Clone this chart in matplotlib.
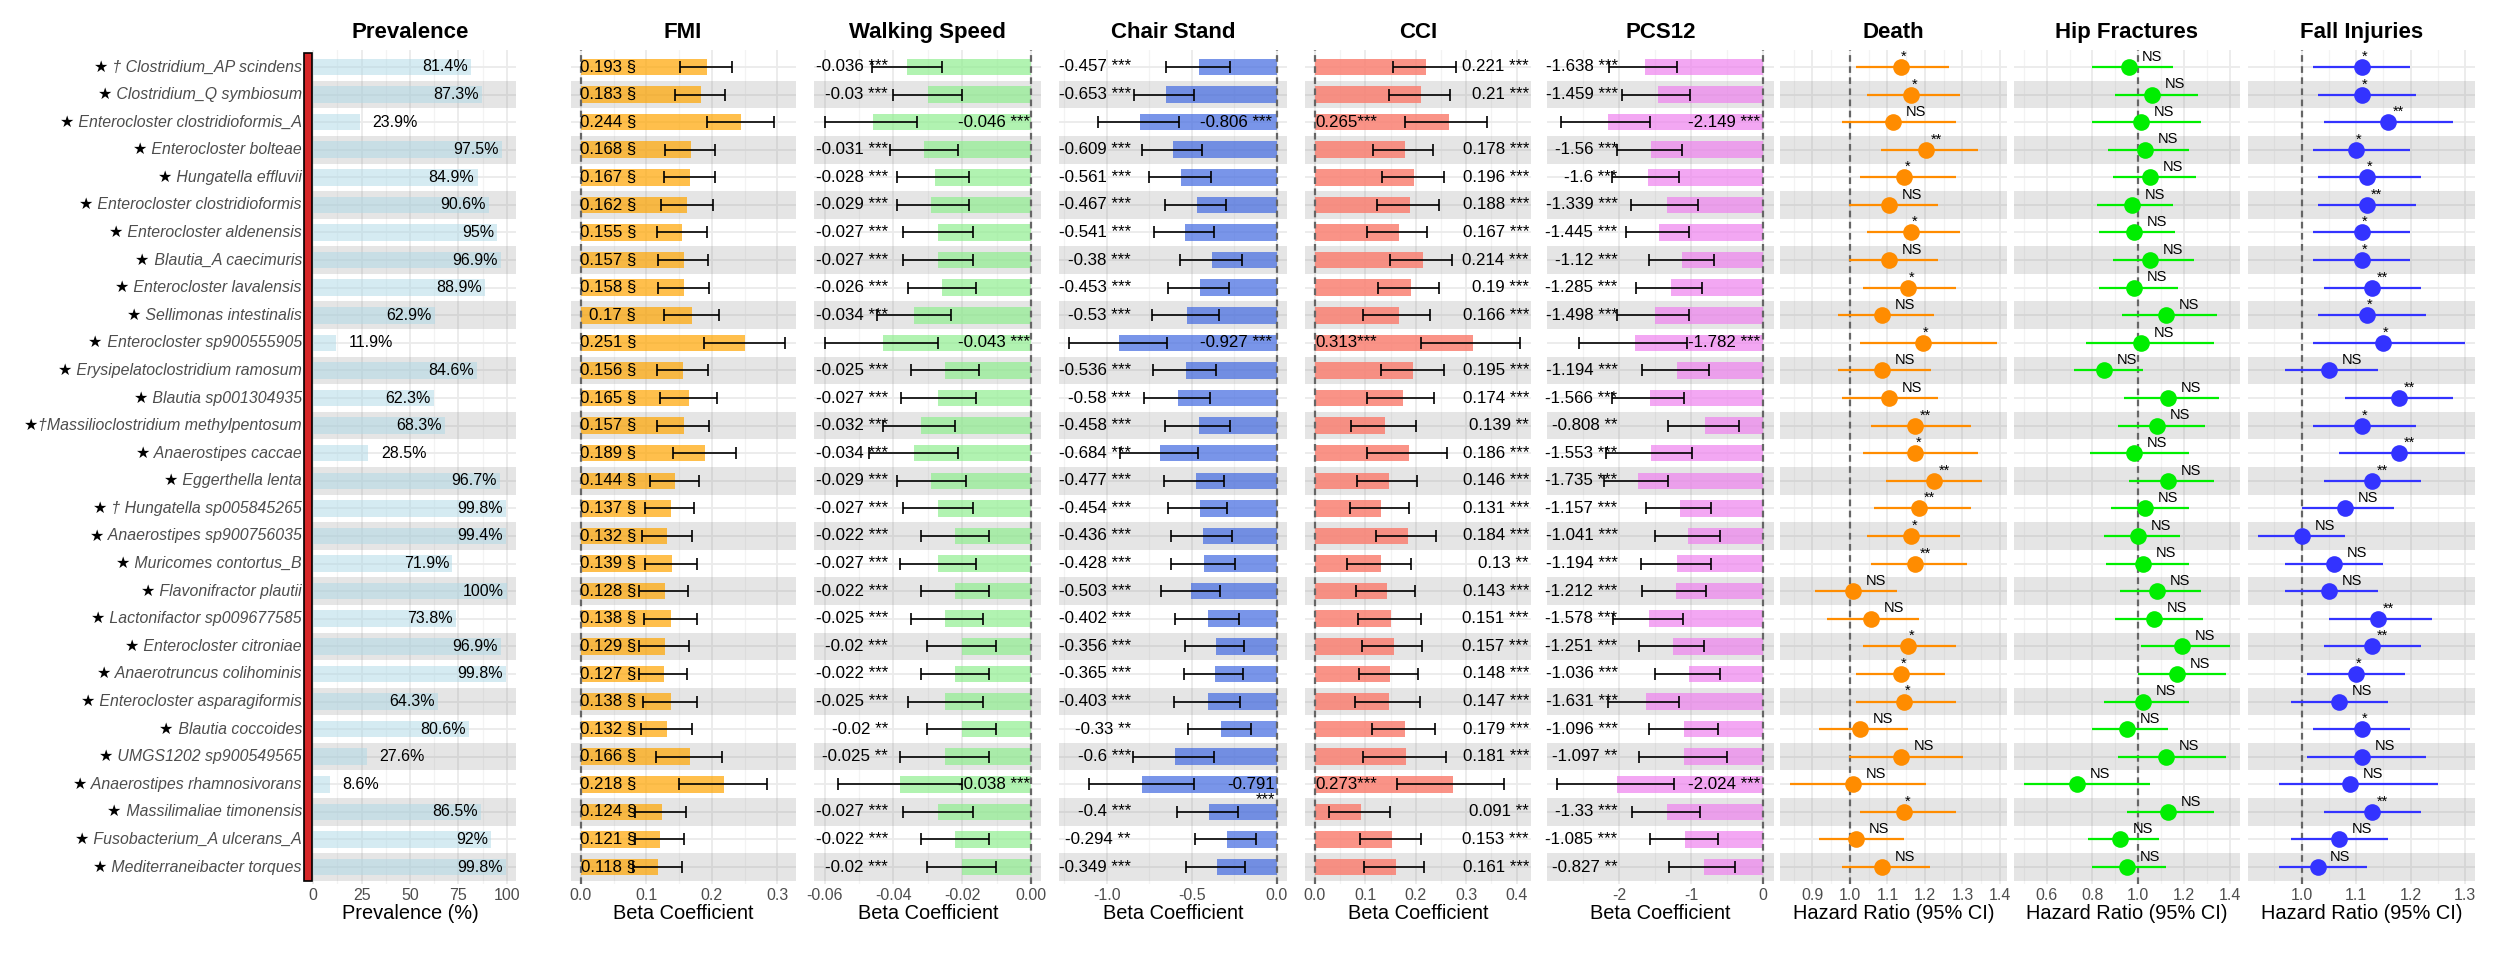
import numpy as np
import matplotlib
matplotlib.use("Agg")
import matplotlib.pyplot as plt
from matplotlib.patches import Rectangle

plt.rcParams['font.family'] = ['Liberation Sans', 'DejaVu Sans']
plt.rcParams['axes.unicode_minus'] = False

# ---- data (top to bottom) ----
species = [
    "★ † Clostridium_AP scindens", "★ Clostridium_Q symbiosum",
    "★ Enterocloster clostridioformis_A", "★ Enterocloster bolteae",
    "★ Hungatella effluvii", "★ Enterocloster clostridioformis",
    "★ Enterocloster aldenensis", "★ Blautia_A caecimuris",
    "★ Enterocloster lavalensis", "★ Sellimonas intestinalis",
    "★ Enterocloster sp900555905", "★ Erysipelatoclostridium ramosum",
    "★ Blautia sp001304935", "★†Massilioclostridium methylpentosum",
    "★ Anaerostipes caccae", "★ Eggerthella lenta",
    "★ † Hungatella sp005845265", "★ Anaerostipes sp900756035",
    "★ Muricomes contortus_B", "★ Flavonifractor plautii",
    "★ Lactonifactor sp009677585", "★ Enterocloster citroniae",
    "★ Anaerotruncus colihominis", "★ Enterocloster asparagiformis",
    "★ Blautia coccoides", "★ UMGS1202 sp900549565",
    "★ Anaerostipes rhamnosivorans", "★ Massilimaliae timonensis",
    "★ Fusobacterium_A ulcerans_A", "★ Mediterraneibacter torques",
]
prevalence = [81.4, 87.3, 23.9, 97.5, 84.9, 90.6, 95, 96.9, 88.9, 62.9,
              11.9, 84.6, 62.3, 68.3, 28.5, 96.7, 99.8, 99.4, 71.9, 100,
              73.8, 96.9, 99.8, 64.3, 80.6, 27.6, 8.6, 86.5, 92, 99.8]

fmi_beta = [0.193, 0.183, 0.244, 0.168, 0.167, 0.162, 0.155, 0.157, 0.158, 0.17,
            0.251, 0.156, 0.165, 0.157, 0.189, 0.144, 0.137, 0.132, 0.139, 0.128,
            0.138, 0.129, 0.127, 0.138, 0.132, 0.166, 0.218, 0.124, 0.121, 0.118]
fmi_lo = [0.152, 0.144, 0.193, 0.129, 0.127, 0.123, 0.117, 0.118, 0.118, 0.127,
          0.188, 0.117, 0.121, 0.117, 0.140, 0.106, 0.098, 0.094, 0.098, 0.089,
          0.097, 0.089, 0.089, 0.095, 0.092, 0.114, 0.150, 0.083, 0.082, 0.079]
fmi_hi = [0.231, 0.220, 0.295, 0.204, 0.205, 0.201, 0.193, 0.194, 0.196, 0.211,
          0.312, 0.194, 0.207, 0.196, 0.237, 0.181, 0.173, 0.169, 0.178, 0.164,
          0.178, 0.165, 0.162, 0.178, 0.170, 0.216, 0.284, 0.161, 0.158, 0.155]

walk_beta = [-0.036, -0.03, -0.046, -0.031, -0.028, -0.029, -0.027, -0.027, -0.026, -0.034,
             -0.043, -0.025, -0.027, -0.032, -0.034, -0.029, -0.027, -0.022, -0.027, -0.022,
             -0.025, -0.02, -0.022, -0.025, -0.02, -0.025, -0.038, -0.027, -0.022, -0.02]
walk_lo = [-0.0461, -0.0400, -0.0600, -0.0410, -0.0390, -0.0390, -0.0371, -0.0371, -0.0358, -0.0448,
           -0.0600, -0.0350, -0.0379, -0.0429, -0.0470, -0.0390, -0.0371, -0.0321, -0.0380, -0.0321,
           -0.0350, -0.0301, -0.0321, -0.0358, -0.0301, -0.0380, -0.0560, -0.0371, -0.0321, -0.0301]
walk_hi = [-0.0260, -0.0200, -0.0330, -0.0211, -0.0179, -0.0179, -0.0170, -0.0170, -0.0161, -0.0232,
           -0.0269, -0.0150, -0.0161, -0.0220, -0.0211, -0.0190, -0.0170, -0.0121, -0.0161, -0.0121,
           -0.0140, -0.0101, -0.0121, -0.0140, -0.0101, -0.0121, -0.0200, -0.0170, -0.0121, -0.0101]
walk_sig = ["***"] * 24 + ["**", "**"] + ["***"] * 4

chair_beta = [-0.457, -0.653, -0.806, -0.609, -0.561, -0.467, -0.541, -0.38, -0.453, -0.53,
              -0.927, -0.536, -0.58, -0.458, -0.684, -0.477, -0.454, -0.436, -0.428, -0.503,
              -0.402, -0.356, -0.365, -0.403, -0.33, -0.6, -0.791, -0.4, -0.294, -0.349]
chair_lo = [-0.649, -0.837, -1.053, -0.790, -0.749, -0.655, -0.720, -0.567, -0.637, -0.731,
            -1.220, -0.725, -0.778, -0.655, -0.920, -0.661, -0.637, -0.620, -0.620, -0.678,
            -0.596, -0.537, -0.543, -0.602, -0.520, -0.843, -1.106, -0.584, -0.478, -0.531]
chair_hi = [-0.276, -0.484, -0.573, -0.441, -0.388, -0.296, -0.371, -0.206, -0.282, -0.341,
            -0.643, -0.359, -0.394, -0.276, -0.465, -0.312, -0.290, -0.265, -0.247, -0.335,
            -0.222, -0.190, -0.200, -0.218, -0.153, -0.371, -0.488, -0.229, -0.124, -0.184]
chair_sig = ["***"] * 24 + ["**"] + ["***"] * 3 + ["**", "***"]
chair_wrap = [27]

cci_beta = [0.221, 0.21, 0.265, 0.178, 0.196, 0.188, 0.167, 0.214, 0.19, 0.166,
            0.313, 0.195, 0.174, 0.139, 0.186, 0.146, 0.131, 0.184, 0.13, 0.143,
            0.151, 0.157, 0.148, 0.147, 0.179, 0.181, 0.273, 0.091, 0.153, 0.161]
cci_lo = [0.155, 0.146, 0.179, 0.116, 0.132, 0.124, 0.104, 0.149, 0.126, 0.096,
          0.211, 0.130, 0.104, 0.072, 0.104, 0.084, 0.070, 0.122, 0.064, 0.082,
          0.086, 0.094, 0.088, 0.080, 0.114, 0.096, 0.163, 0.028, 0.090, 0.098]
cci_hi = [0.280, 0.268, 0.342, 0.235, 0.255, 0.246, 0.223, 0.271, 0.246, 0.228,
          0.407, 0.255, 0.237, 0.201, 0.261, 0.203, 0.187, 0.241, 0.191, 0.199,
          0.211, 0.213, 0.205, 0.209, 0.239, 0.259, 0.375, 0.149, 0.211, 0.217]
cci_sig = ["***"] * 13 + ["**"] + ["***"] * 4 + ["**"] + ["***"] * 8 + ["**", "***", "***"]

pcs_beta = [-1.638, -1.459, -2.149, -1.56, -1.6, -1.339, -1.445, -1.12, -1.285, -1.498,
            -1.782, -1.194, -1.566, -0.808, -1.553, -1.735, -1.157, -1.041, -1.194, -1.212,
            -1.578, -1.251, -1.036, -1.631, -1.096, -1.097, -2.024, -1.33, -1.085, -0.827]
pcs_lo = [-2.139, -1.954, -2.799, -2.032, -2.092, -1.829, -1.908, -1.589, -1.769, -2.023,
          -2.559, -1.677, -2.092, -1.316, -2.176, -2.203, -1.621, -1.506, -1.691, -1.677,
          -2.079, -1.718, -1.497, -2.148, -1.589, -1.727, -2.855, -1.815, -1.566, -1.303]
pcs_hi = [-1.192, -1.016, -1.566, -1.132, -1.164, -0.901, -1.025, -0.679, -0.845, -1.025,
          -1.062, -0.748, -1.095, -0.333, -0.984, -1.316, -0.730, -0.605, -0.730, -0.790,
          -1.118, -0.818, -0.605, -1.164, -0.633, -0.503, -1.242, -0.882, -0.633, -0.388]
pcs_sig = ["***"] * 13 + ["**"] + ["***"] * 11 + ["**"] + ["***"] * 3 + ["**"]

death_hr = [1.135, 1.164, 1.116, 1.204, 1.145, 1.105, 1.164, 1.105, 1.155, 1.085,
            1.194, 1.085, 1.105, 1.174, 1.174, 1.224, 1.184, 1.164, 1.174, 1.007,
            1.056, 1.155, 1.135, 1.145, 1.027, 1.135, 1.007, 1.145, 1.016, 1.085]
death_lo = [1.016, 1.046, 0.978, 1.084, 1.027, 0.997, 1.046, 0.997, 1.036, 0.967,
            1.027, 0.967, 0.978, 1.056, 1.036, 1.095, 1.065, 1.046, 1.056, 0.908,
            0.938, 1.036, 1.016, 1.016, 0.918, 0.997, 0.840, 1.027, 0.918, 0.978]
death_hi = [1.264, 1.293, 1.283, 1.342, 1.283, 1.234, 1.293, 1.234, 1.283, 1.224,
            1.391, 1.215, 1.234, 1.323, 1.342, 1.352, 1.323, 1.293, 1.313, 1.125,
            1.184, 1.283, 1.253, 1.283, 1.155, 1.302, 1.204, 1.283, 1.145, 1.213]
death_sig = ["*", "*", "NS", "**", "*", "NS", "*", "NS", "*", "NS",
             "*", "NS", "NS", "**", "*", "**", "**", "*", "**", "NS",
             "NS", "*", "*", "*", "NS", "NS", "NS", "*", "NS", "NS"]

hip_hr = [0.961, 1.061, 1.010, 1.031, 1.051, 0.971, 0.981, 1.051, 0.981, 1.121,
          1.010, 0.850, 1.131, 1.080, 0.981, 1.131, 1.031, 1.000, 1.020, 1.080,
          1.070, 1.191, 1.170, 1.020, 0.949, 1.121, 0.731, 1.131, 0.920, 0.949]
hip_lo = [0.799, 0.900, 0.799, 0.869, 0.889, 0.820, 0.830, 0.889, 0.830, 0.929,
          0.770, 0.719, 0.939, 0.910, 0.789, 0.959, 0.879, 0.850, 0.859, 0.920,
          0.900, 1.010, 1.000, 0.850, 0.799, 0.910, 0.501, 0.949, 0.779, 0.799]
hip_hi = [1.153, 1.262, 1.272, 1.221, 1.252, 1.153, 1.161, 1.241, 1.172, 1.342,
          1.332, 1.022, 1.352, 1.291, 1.221, 1.332, 1.221, 1.182, 1.221, 1.272,
          1.281, 1.400, 1.383, 1.221, 1.131, 1.383, 1.051, 1.332, 1.090, 1.121]
hip_sig = ["NS"] * 30

fall_hr = [1.110, 1.110, 1.159, 1.099, 1.119, 1.119, 1.110, 1.110, 1.129, 1.119,
           1.149, 1.050, 1.179, 1.110, 1.179, 1.129, 1.080, 1.000, 1.059, 1.050,
           1.140, 1.129, 1.099, 1.069, 1.110, 1.110, 1.089, 1.129, 1.069, 1.029]
fall_lo = [1.020, 1.029, 1.040, 1.020, 1.029, 1.029, 1.020, 1.020, 1.040, 1.029,
           1.020, 0.969, 1.080, 1.020, 1.069, 1.040, 1.000, 0.920, 0.969, 0.969,
           1.050, 1.040, 1.009, 0.980, 1.020, 1.009, 0.959, 1.040, 0.980, 0.959]
fall_hi = [1.199, 1.209, 1.278, 1.199, 1.219, 1.209, 1.199, 1.199, 1.219, 1.229,
           1.299, 1.140, 1.278, 1.209, 1.299, 1.219, 1.170, 1.080, 1.149, 1.140,
           1.239, 1.219, 1.189, 1.159, 1.199, 1.229, 1.250, 1.219, 1.159, 1.119]
fall_sig = ["*", "*", "**", "*", "*", "**", "*", "*", "**", "*",
            "*", "NS", "**", "*", "**", "**", "NS", "NS", "NS", "NS",
            "**", "**", "*", "NS", "*", "NS", "NS", "**", "NS", "NS"]

# ---- layout ----
W, H = 2516, 956
fig = plt.figure(figsize=(W / 100, H / 100), dpi=100)
rows = np.arange(1, len(species) + 1)
top_px, bot_px = 50.4, 883.6
LAB = 12.2  # size of the value labels


def make_ax(left_px, right_px, xlim, major, labels, minor, title, xlabel):
    ax = fig.add_axes([left_px / W, 1 - bot_px / H, (right_px - left_px) / W, (bot_px - top_px) / H])
    ax.set_xlim(xlim)
    ax.set_ylim(30.6, 0.4)
    for s in ax.spines.values():
        s.set_visible(False)
    ax.set_xticks(major)
    ax.set_xticklabels(labels)
    ax.set_xticks(minor, minor=True)
    ax.set_yticks(rows)
    ax.set_yticklabels([])
    ax.tick_params(axis='both', which='both', length=0, labelsize=11.5, labelcolor='#4D4D4D', pad=3)
    ax.set_axisbelow(True)
    ax.grid(True, which='major', color='#EBEBEB', lw=1.3)
    ax.grid(True, which='minor', axis='x', color='#F3F3F3', lw=0.9)
    for r in rows[1::2]:
        ax.axhspan(r - 0.5, r + 0.5, color='#808080', alpha=0.2, lw=0, zorder=0.6)
    ax.set_title(title, fontsize=16, fontweight='bold', pad=9)
    ax.set_xlabel(xlabel, fontsize=14.4, labelpad=1)
    return ax


def bar_panel(ax, beta, lo, hi, color, alpha):
    b = np.array(beta)
    ax.barh(rows, b, height=0.6, color=color, alpha=alpha, lw=0, zorder=1)
    ax.axvline(0, color='#666666', ls=(0, (3, 2)), lw=1.6, zorder=2)
    ax.errorbar(b, rows, xerr=[b - np.array(lo), np.array(hi) - b], fmt='none',
                ecolor='black', elinewidth=1.2, capsize=4.5, capthick=1.2, zorder=3)


def hr_panel(ax, hr, lo, hi, sig, color):
    h = np.array(hr)
    ax.axvline(1, color='#666666', ls=(0, (3, 2)), lw=1.6, zorder=2)
    ax.errorbar(h, rows, xerr=[h - np.array(lo), np.array(hi) - h], fmt='o', color=color,
                ms=12, mew=0, elinewidth=1.6, capsize=2.5, capthick=1.6, zorder=3)
    offs = {'NS': 16.5, '**': 7.2, '*': 2.2}
    for r, v, s in zip(rows, h, sig):
        ax.annotate(s, (v, r), xytext=(offs[s], 4.5), textcoords='offset points',
                    ha='center', va='baseline', fontsize=10.5, zorder=4)


# Prevalence
ax_p = make_ax(303.6, 516.4, (-5, 105), [0, 25, 50, 75, 100], ['0', '25', '50', '75', '100'],
               [12.5, 37.5, 62.5, 87.5], 'Prevalence', 'Prevalence (%)')
ax_p.barh(rows, prevalence, height=0.6, color='lightblue', alpha=0.5, lw=0, zorder=1)
for r, v in zip(rows, prevalence):
    if v >= 30:
        ax_p.text(v - 1.6, r, f"{v:g}%", ha='right', va='center', fontsize=11.5, zorder=4)
    else:
        ax_p.text(v + 6.5, r, f"{v:g}%", ha='left', va='center', fontsize=11.5, zorder=4)
ax_p.add_patch(Rectangle((-4.8, 0.5), 4.0, 30, facecolor='#D62728', edgecolor='black',
                         lw=1.2, clip_on=False, zorder=5))

# FMI
ax_f = make_ax(570.5, 795.6, (-0.0156, 0.3276), [0, 0.1, 0.2, 0.3], ['0.0', '0.1', '0.2', '0.3'],
               [0.05, 0.15, 0.25], 'FMI', 'Beta Coefficient')
bar_panel(ax_f, fmi_beta, fmi_lo, fmi_hi, 'orange', 0.7)
for r, v in zip(rows, fmi_beta):
    ax_f.text(0.0843, r, f"{v:g} §", ha='right', va='center', fontsize=LAB, zorder=4)

# Walking speed
ax_w = make_ax(814.3, 1041.3, (-0.063, 0.003), [-0.06, -0.04, -0.02, 0],
               ['-0.06', '-0.04', '-0.02', '0.00'], [-0.05, -0.03, -0.01],
               'Walking Speed', 'Beta Coefficient')
bar_panel(ax_w, walk_beta, walk_lo, walk_hi, 'lightgreen', 0.7)
for r, v, lo, s in zip(rows, walk_beta, walk_lo, walk_sig):
    if lo < -0.05:
        ax_w.text(-0.0002, r, f"{v:g} {s}", ha='right', va='center', fontsize=LAB, zorder=4)
    else:
        ax_w.text(-0.0416, r, f"{v:g} {s}", ha='right', va='center', fontsize=LAB, zorder=4)

# Chair stand
ax_c = make_ax(1058.9, 1287.1, (-1.281, 0.061), [-1.0, -0.5, 0.0], ['-1.0', '-0.5', '0.0'],
               [-1.25, -0.75, -0.25], 'Chair Stand', 'Beta Coefficient')
bar_panel(ax_c, chair_beta, chair_lo, chair_hi, 'royalblue', 0.7)
for r, v, lo, s in zip(rows, chair_beta, chair_lo, chair_sig):
    if r in chair_wrap:
        ax_c.text(-0.01, r + 0.27, f"{v:g}\n{s}", ha='right', va='center', fontsize=LAB,
                  multialignment='right', linespacing=1.0, zorder=4)
    elif lo < -1.0:
        ax_c.text(-0.03, r, f"{v:g} {s}", ha='right', va='center', fontsize=LAB, zorder=4)
    else:
        ax_c.text(-0.857, r, f"{v:g} {s}", ha='right', va='center', fontsize=LAB, zorder=4)

# CCI
ax_i = make_ax(1304.7, 1530.9, (-0.0204, 0.4284), [0, 0.1, 0.2, 0.3, 0.4],
               ['0.0', '0.1', '0.2', '0.3', '0.4'], [0.05, 0.15, 0.25, 0.35],
               'CCI', 'Beta Coefficient')
bar_panel(ax_i, cci_beta, cci_lo, cci_hi, 'salmon', 0.85)
for r, v, hi, s in zip(rows, cci_beta, cci_hi, cci_sig):
    if hi > 0.3:
        ax_i.text(0.0, r, f"{v:g}{s}", ha='left', va='center', fontsize=LAB, zorder=4)
    else:
        ax_i.text(0.4246, r, f"{v:g} {s}", ha='right', va='center', fontsize=LAB, zorder=4)

# PCS12
ax_s = make_ax(1547.0, 1773.6, (-2.998, 0.143), [-2, -1, 0], ['-2', '-1', '0'],
               [-2.5, -1.5, -0.5], 'PCS12', 'Beta Coefficient')
bar_panel(ax_s, pcs_beta, pcs_lo, pcs_hi, 'violet', 0.7)
for r, v, lo, s in zip(rows, pcs_beta, pcs_lo, pcs_sig):
    if lo < -2.4:
        ax_s.text(-0.04, r, f"{v:g} {s}", ha='right', va='center', fontsize=LAB, zorder=4)
    else:
        ax_s.text(-2.02, r, f"{v:g} {s}", ha='right', va='center', fontsize=LAB, zorder=4)

# Hazard ratio panels
ax_d = make_ax(1779.5, 2007.1, (0.812, 1.419), [0.9, 1.0, 1.1, 1.2, 1.3, 1.4],
               ['0.9', '1.0', '1.1', '1.2', '1.3', '1.4'], [0.85, 0.95, 1.05, 1.15, 1.25, 1.35],
               'Death', 'Hazard Ratio (95% CI)')
hr_panel(ax_d, death_hr, death_lo, death_hi, death_sig, 'darkorange')

ax_h = make_ax(2013.6, 2240.3, (0.456, 1.445), [0.6, 0.8, 1.0, 1.2, 1.4],
               ['0.6', '0.8', '1.0', '1.2', '1.4'], [0.5, 0.7, 0.9, 1.1, 1.3],
               'Hip Fractures', 'Hazard Ratio (95% CI)')
hr_panel(ax_h, hip_hr, hip_lo, hip_hi, hip_sig, '#00EE00')

ax_l = make_ax(2247.8, 2474.9, (0.901, 1.318), [1.0, 1.1, 1.2, 1.3],
               ['1.0', '1.1', '1.2', '1.3'], [0.95, 1.05, 1.15, 1.25],
               'Fall Injuries', 'Hazard Ratio (95% CI)')
hr_panel(ax_l, fall_hr, fall_lo, fall_hi, fall_sig, '#3333FF')

# species labels: gray italic name, black star in front
names = []
for r, sp in zip(rows, species):
    t = ax_p.text(-5.84, r, sp[1:], ha='right', va='center', fontsize=11.4, style='italic',
                  color='#4D4D4D', clip_on=False)
    names.append(t)
fig.canvas.draw()
rend = fig.canvas.get_renderer()
for t, sp in zip(names, species):
    bb = t.get_window_extent(rend)
    fig.text(bb.x0 / W, (bb.y0 + bb.y1) / 2 / H, sp[0], ha='right', va='center',
             fontsize=11.5, color='black', family=['DejaVu Sans'])

fig.savefig('out.png', dpi=100)
